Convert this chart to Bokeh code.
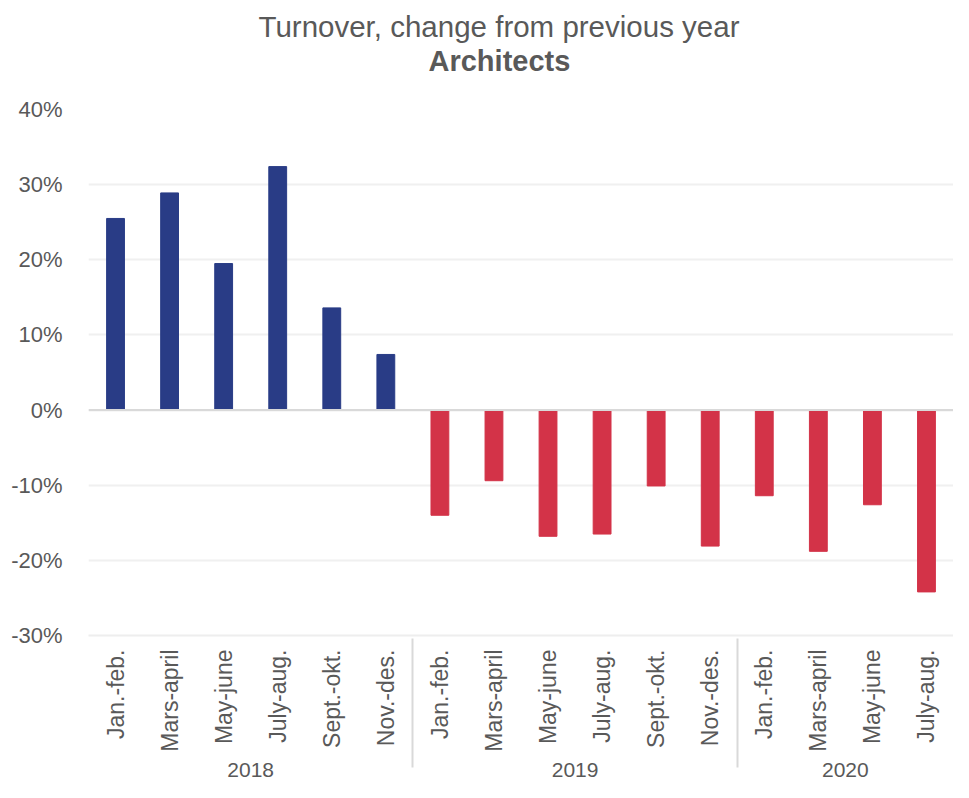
import math
from bokeh.plotting import figure
from bokeh.models import (FactorRange, Range1d, FixedTicker, NumeralTickFormatter,
                          Span, Title, ColumnDataSource)
from bokeh.embed import file_html
from bokeh.resources import INLINE

years = ["2018"] * 6 + ["2019"] * 6 + ["2020"] * 4
periods = ["Jan.-feb.", "Mars-april", "May-june", "July-aug.", "Sept.-okt.", "Nov.-des.",
           "Jan.-feb.", "Mars-april", "May-june", "July-aug.", "Sept.-okt.", "Nov.-des.",
           "Jan.-feb.", "Mars-april", "May-june", "July-aug."]
change = [0.255, 0.289, 0.195, 0.324, 0.136, 0.074,
          -0.140, -0.094, -0.168, -0.165, -0.101, -0.181,
          -0.114, -0.188, -0.126, -0.242]
y_ticks = [-0.3, -0.2, -0.1, 0.0, 0.1, 0.2, 0.3, 0.4]

factors = list(zip(years, periods))
colors = ["#293c86" if v >= 0 else "#d33348" for v in change]
src = ColumnDataSource(dict(x=factors, top=change, color=colors))

FONT = "Liberation Sans"
TXT = "#595959"

p = figure(width=953, height=782, output_backend="svg", toolbar_location=None,
           x_range=FactorRange(*factors, factor_padding=0, group_padding=0, range_padding=0),
           y_range=Range1d(-0.3, 0.4),
           min_border_left=88, min_border_right=0, min_border_top=0, min_border_bottom=147)
p.outline_line_color = None

# spacer nearest the plot, then subtitle, then main title on top
spacer = Title(text=" ", text_font=FONT, text_font_size="1px", standoff=37)
p.add_layout(spacer, "above")
sub = Title(text="Architects", text_font=FONT, text_font_size="29px",
            text_font_style="bold", text_color=TXT, align="left", offset=340,
            standoff=-14)
p.add_layout(sub, "above")

p.title.text = "Turnover, change from previous year"
p.title.text_font = FONT
p.title.text_font_size = "29.5px"
p.title.text_font_style = "normal"
p.title.text_color = TXT
p.title.align = "left"
p.title.offset = 170
p.title.standoff = 14

p.vbar(x="x", top="top", width=0.33, color="color", source=src)

p.add_layout(Span(location=0, dimension="width", line_color="#d9d9d9", line_width=2))

p.yaxis.ticker = FixedTicker(ticks=y_ticks)
p.yaxis.formatter = NumeralTickFormatter(format="0%")
p.yaxis.axis_line_color = None
p.yaxis.major_tick_line_color = None
p.yaxis.minor_tick_line_color = None
p.yaxis.major_label_text_font = FONT
p.yaxis.major_label_text_font_size = "22px"
p.yaxis.major_label_text_color = TXT
p.yaxis.major_label_standoff = 20

p.ygrid.grid_line_color = "#f0f0f0"
p.ygrid.grid_line_width = 2
p.ygrid.ticker = FixedTicker(ticks=y_ticks)
p.xgrid.grid_line_color = None

xa = p.xaxis[0]
xa.axis_line_color = "#eeeeee"
xa.axis_line_width = 2
xa.major_tick_line_color = None
xa.minor_tick_line_color = None
xa.major_label_orientation = math.pi / 2
xa.major_label_text_font = FONT
xa.major_label_text_font_size = "23px"
xa.major_label_text_color = TXT
xa.major_label_standoff = 8
xa.group_text_font = FONT
xa.group_text_font_size = "21px"
xa.group_text_font_style = "normal"
xa.group_text_color = TXT
xa.separator_line_color = "#d9d9d9"
xa.separator_line_width = 2

open("out.html", "w").write(file_html(p, INLINE))
